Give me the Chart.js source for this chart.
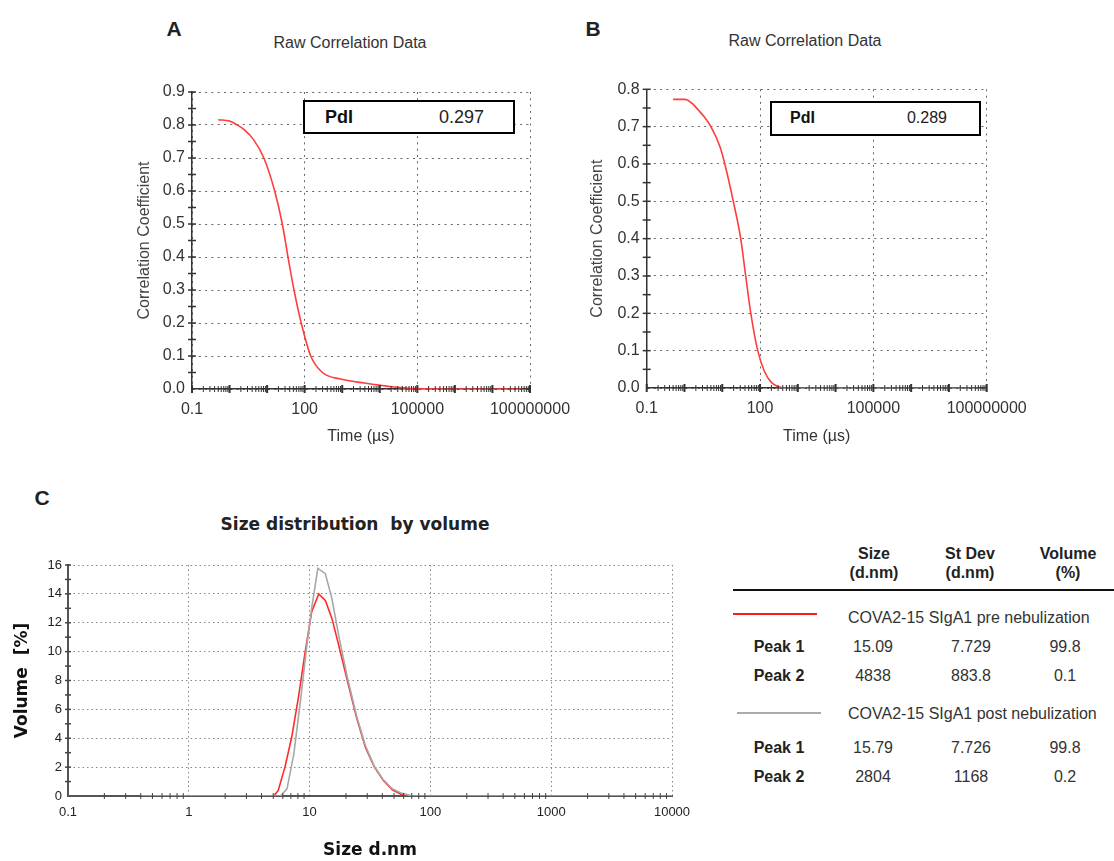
<!DOCTYPE html>
<html><head><meta charset="utf-8">
<script src="https://cdn.jsdelivr.net/npm/chart.js@4"></script>
<style>
body{margin:0;background:#fff;width:1114px;height:861px;position:relative;overflow:hidden;font-family:"Liberation Sans",Arial,sans-serif;color:#222}
.abs{position:absolute;white-space:nowrap;line-height:1}
.c{transform:translate(-50%,-50%)}
.l{transform:translateY(-50%)}
.r{transform:translate(-100%,-50%)}
canvas{position:absolute}
.box{position:absolute;border:2.5px solid #000;box-sizing:border-box;background:#fff}
.b{font-weight:bold}
.t16{font-size:16px;color:#333}
.hd{font-size:16px;font-weight:bold;color:#222;text-align:center;line-height:19px}
</style></head><body>

<div class="abs c b" style="left:174px;top:28px;font-size:21px">A</div>
<div class="abs c b" style="left:593px;top:28px;font-size:21px">B</div>
<div class="abs c b" style="left:42px;top:497px;font-size:21px">C</div>

<div class="abs c" style="left:350px;top:43px;font-size:16px;color:#333">Raw Correlation Data</div>
<div class="abs c" style="left:805px;top:41px;font-size:16px;color:#333">Raw Correlation Data</div>
<div class="abs c b" style="left:355px;top:524px;font-size:17px;font-family:'DejaVu Sans';color:#222">Size distribution&nbsp; by volume</div>

<canvas id="ca" width="490" height="430" style="left:100px;top:20px"></canvas>
<canvas id="cb" width="500" height="430" style="left:560px;top:20px"></canvas>
<canvas id="cc" width="720" height="316" style="left:0px;top:545px"></canvas>

<div class="box" style="left:303px;top:100px;width:212px;height:34px"></div>
<div class="abs l b" style="left:325px;top:117px;font-size:18px;color:#111">PdI</div>
<div class="abs r" style="left:484px;top:117px;font-size:18px;color:#222">0.297</div>
<div class="box" style="left:770px;top:101px;width:211px;height:35px"></div>
<div class="abs l b" style="left:790px;top:118px;font-size:16px;color:#111">PdI</div>
<div class="abs r" style="left:947px;top:118px;font-size:16px;color:#222">0.289</div>

<!-- table -->
<div class="abs c hd" style="left:874px;top:563px">Size<br>(d.nm)</div>
<div class="abs c hd" style="left:970px;top:563px">St Dev<br>(d.nm)</div>
<div class="abs c hd" style="left:1068px;top:563px">Volume<br>(%)</div>
<div class="abs" style="left:733px;top:589px;width:381px;height:0;border-top:2.5px solid #111"></div>

<div class="abs" style="left:733px;top:613px;width:84px;height:0;border-top:2.5px solid #ff1a1a"></div>
<div class="abs l t16" style="left:848px;top:618px">COVA2-15 SIgA1 pre nebulization</div>
<div class="abs c b t16" style="left:779px;top:647px;color:#222">Peak 1</div>
<div class="abs c t16" style="left:873px;top:647px">15.09</div>
<div class="abs c t16" style="left:971px;top:647px">7.729</div>
<div class="abs c t16" style="left:1065px;top:647px">99.8</div>
<div class="abs c b t16" style="left:779px;top:676px;color:#222">Peak 2</div>
<div class="abs c t16" style="left:873px;top:676px">4838</div>
<div class="abs c t16" style="left:971px;top:676px">883.8</div>
<div class="abs c t16" style="left:1065px;top:676px">0.1</div>

<div class="abs" style="left:737px;top:712px;width:84px;height:0;border-top:2.5px solid #aaa"></div>
<div class="abs l t16" style="left:848px;top:714px">COVA2-15 SIgA1 post nebulization</div>
<div class="abs c b t16" style="left:779px;top:748px;color:#222">Peak 1</div>
<div class="abs c t16" style="left:873px;top:748px">15.79</div>
<div class="abs c t16" style="left:971px;top:748px">7.726</div>
<div class="abs c t16" style="left:1065px;top:748px">99.8</div>
<div class="abs c b t16" style="left:779px;top:777px;color:#222">Peak 2</div>
<div class="abs c t16" style="left:873px;top:777px">2804</div>
<div class="abs c t16" style="left:971px;top:777px">1168</div>
<div class="abs c t16" style="left:1065px;top:777px">0.2</div>

<script>
// ---- data ----
const timeA = [0.5, 1.0, 1.6, 2.5, 4.4, 8.2, 15.9, 25.4, 36, 52, 81, 145, 297, 910, 3900, 10700, 30000, 100000, 1000000, 10000000, 60000000];
const corrA = [0.816, 0.812, 0.80, 0.785, 0.755, 0.70, 0.60, 0.50, 0.40, 0.30, 0.20, 0.10, 0.05, 0.03, 0.018, 0.011, 0.005, 0.001, 0, 0, 0];
const timeB = [0.5, 1.03, 1.6, 2.3, 3.4, 5.0, 8.8, 11.7, 19.6, 30.8, 41.8, 57, 87, 130, 200, 300, 450, 10000, 1000000, 60000000];
const corrB = [0.773, 0.773, 0.762, 0.745, 0.725, 0.70, 0.645, 0.60, 0.50, 0.40, 0.30, 0.20, 0.10, 0.045, 0.015, 0.004, 0, 0, 0, 0];
const sizePre = [0.4, 5.06, 5.5, 6.25, 7.1, 8.07, 9.2, 10.4, 11.9, 13.5, 15.3, 17.4, 20.6, 24.5, 29, 34.4, 40.8, 48.4, 57.5, 65, 10000];
const volPre  = [0, 0, 0.39, 2.0, 4.05, 6.8, 10.0, 12.75, 14.0, 13.55, 12.3, 10.46, 7.94, 5.42, 3.36, 2.0, 1.08, 0.43, 0.11, 0, 0];
const sizePost = [0.4, 5.74, 6.5, 7.4, 8.4, 9.57, 10.4, 11.7, 13.5, 15.3, 17.4, 20.6, 24.5, 29, 34.4, 40.8, 48.4, 57.5, 71, 10000];
const volPost  = [0, 0, 0.5, 2.9, 6.57, 10.7, 13.0, 15.77, 15.4, 13.66, 11.15, 8.17, 5.54, 3.48, 2.04, 1.12, 0.5, 0.2, 0, 0];
const timeTicks = [0.1, 100, 100000, 100000000];
const sizeTicks = [0.1, 1, 10, 100, 1000, 10000];

const FAM = "'Liberation Sans', Arial, sans-serif";
const pts = (xs, ys) => xs.map((v, i) => ({x: v, y: ys[i]}));

function logMinor(lo, hi) { // minor axis tick marks, k*10^n
  const out = [];
  for (let e = lo; e < hi; e++) for (let k = 2; k <= 9; k++) out.push(k * Math.pow(10, e));
  return out;
}
function logMajor(lo, hi) { const o = []; for (let e = lo; e <= hi; e++) o.push(Math.pow(10, e)); return o; }
function linSteps(lo, hi, st) { const o = []; for (let v = lo; v <= hi + 1e-9; v += st) o.push(+v.toFixed(4)); return o; }

const minorTicks = {
  id: 'minorTicks',
  afterDatasetsDraw(chart, args, o) {
    const {ctx, chartArea: ca, scales: {x, y}} = chart;
    ctx.save();
    ctx.strokeStyle = o.color || '#333';
    const line = (x1, y1, x2, y2, w) => { ctx.lineWidth = w; ctx.beginPath(); ctx.moveTo(x1, y1); ctx.lineTo(x2, y2); ctx.stroke(); };
    (o.xMinor || []).forEach(v => { const p = x.getPixelForValue(v); if (p >= ca.left - 0.5 && p <= ca.right + 0.5) line(p, ca.bottom - o.lenMinor, p, ca.bottom + o.lenMinor, 1); });
    (o.xMajor || []).forEach(v => { const p = x.getPixelForValue(v); line(p, ca.bottom - o.lenMajor, p, ca.bottom + o.lenMajor, 2); });
    (o.yMinor || []).forEach(v => { const p = y.getPixelForValue(v); line(ca.left - o.lenY, p, ca.left + o.lenY, p, 1.5); });
    ctx.restore();
  }
};
Chart.register(minorTicks);

function corrChart(id, xs, ys, ymax, geo) {
  return new Chart(document.getElementById(id), {
    type: 'line',
    data: {datasets: [{data: pts(xs, ys), borderColor: '#ff3d3d', borderWidth: 1.6, pointRadius: 0, cubicInterpolationMode: 'monotone', fill: false}]},
    options: {
      responsive: false, animation: false,
      layout: {padding: {left: 0, right: geo.right, top: geo.top, bottom: 0}},
      plugins: {
        legend: {display: false}, tooltip: {enabled: false}, title: {display: false},
        minorTicks: {xMinor: logMinor(-1, 8), xMajor: logMajor(-1, 8), yMinor: linSteps(0.05, ymax, 0.05), lenMinor: 3, lenMajor: 4, lenY: 4, color: '#333'}
      },
      scales: {
        x: {
          type: 'logarithmic', min: 0.1, max: 100000000,
          afterBuildTicks: s => { s.ticks = timeTicks.map(v => ({value: v})); },
          afterFit: s => { s.height = geo.xh; },
          ticks: {padding: 11, color: '#333', font: {size: 16, family: FAM}, maxRotation: 0, autoSkip: false, callback: v => String(v)},
          grid: {color: '#666', lineWidth: 1, drawTicks: false},
          border: {display: true, color: '#333', width: 1.5, dash: [2, 4.3]},
          title: {display: true, text: 'Time (µs)', color: '#333', font: {size: 16, family: FAM}, padding: {top: 0, bottom: 4}}
        },
        y: {
          type: 'linear', min: 0, max: ymax,
          afterFit: s => { s.width = geo.yw; },
          ticks: {stepSize: 0.1, padding: 7, color: '#333', font: {size: 16, family: FAM}, callback: v => Number(v).toFixed(1)},
          grid: {color: '#666', lineWidth: 1, drawTicks: false},
          border: {display: true, color: '#333', width: 1.5, dash: [2, 4.3]},
          title: {display: true, text: 'Correlation Coefficient', color: '#444', font: {size: 16, family: FAM}, padding: {top: geo.ytp, bottom: 0}}
        }
      }
    }
  });
}

corrChart('ca', timeA, corrA, 0.9, {right: 60, top: 72, xh: 61, yw: 92, ytp: 35});
corrChart('cb', timeB, corrB, 0.8, {right: 73.3, top: 69.3, xh: 62, yw: 86.7, ytp: 28});

new Chart(document.getElementById('cc'), {
  type: 'line',
  data: {datasets: [
    {data: pts(sizePost, volPost), borderColor: '#a8a8a8', borderWidth: 1.6, pointRadius: 0, tension: 0, fill: false},
    {data: pts(sizePre, volPre), borderColor: '#ff2a2a', borderWidth: 1.6, pointRadius: 0, tension: 0, fill: false}
  ]},
  options: {
    responsive: false, animation: false,
    layout: {padding: {left: 0, right: 48, top: 20, bottom: 0}},
    plugins: {
      legend: {display: false}, tooltip: {enabled: false},
      minorTicks: {xMinor: logMinor(-1, 4), xMajor: [], yMinor: linSteps(1, 16, 1), lenMinor: 3, lenMajor: 4, lenY: 3, color: '#444'}
    },
    scales: {
      x: {
        type: 'logarithmic', min: 0.1, max: 10000,
        afterBuildTicks: s => { s.ticks = sizeTicks.map(v => ({value: v})); },
        afterFit: s => { s.height = 65; },
        ticks: {padding: 9, color: '#222', font: {size: 13, family: FAM}, maxRotation: 0, autoSkip: false, callback: v => String(v)},
        grid: {color: '#888', lineWidth: 1, drawTicks: false},
        border: {display: true, color: '#555', width: 2, dash: [1.5, 3]},
        title: {display: true, text: 'Size d.nm', color: '#111', font: {size: 17, weight: 'bold', family: "'DejaVu Sans', sans-serif"}, padding: {top: 0, bottom: 0}}
      },
      y: {
        type: 'linear', min: 0, max: 16,
        afterFit: s => { s.width = 68; },
        ticks: {stepSize: 2, padding: 6, color: '#222', font: {size: 13, family: FAM}},
        grid: {color: '#888', lineWidth: 1, drawTicks: false},
        border: {display: true, color: '#555', width: 2, dash: [1.5, 3]},
        title: {display: true, text: 'Volume  [%]', color: '#111', font: {size: 17, weight: 'bold', family: "'DejaVu Sans', sans-serif"}, padding: {top: 12, bottom: 0}}
      }
    }
  }
});
</script>
</body></html>
